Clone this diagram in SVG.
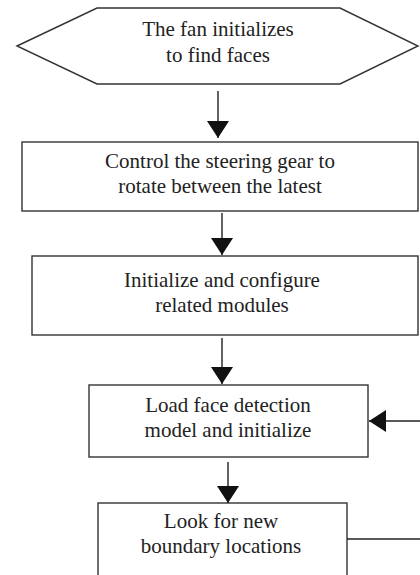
<svg xmlns="http://www.w3.org/2000/svg" width="420" height="575" viewBox="0 0 420 575">
<style>
.shape{fill:#fff;stroke:#333;stroke-width:1.4}
.conn{stroke:#222;stroke-width:1.4;fill:none}
text{font-family:"Liberation Serif","Times New Roman",serif;font-size:21px;fill:#222;text-anchor:middle}
</style>
<defs>
<marker id="ah" markerUnits="userSpaceOnUse" markerWidth="18" markerHeight="22" refX="17" refY="11" orient="auto">
<path d="M0,0 L17,11 L0,22 z" fill="#111"/>
</marker>
</defs>
<rect width="420" height="575" fill="#fff"/>
<g id="n1">
<polygon class="shape" points="17,46 97,8 340,8 418,46 340,84 97,84"/>
<text x="218" y="36">The fan initializes</text>
<text x="218" y="62">to find faces</text>
</g>
<g id="n2">
<rect class="shape" x="22" y="142" width="396" height="69"/>
<text x="220" y="168">Control the steering gear to</text>
<text x="220" y="193">rotate between the latest</text>
</g>
<g id="n3">
<rect class="shape" x="32" y="256" width="386" height="79"/>
<text x="222" y="287">Initialize and configure</text>
<text x="222" y="312">related modules</text>
</g>
<g id="n4">
<rect class="shape" x="89" y="385" width="279" height="72"/>
<text x="228" y="412">Load face detection</text>
<text x="228" y="437">model and initialize</text>
</g>
<g id="n5">
<rect class="shape" x="98" y="503" width="249" height="80"/>
<text x="221" y="528">Look for new</text>
<text x="221" y="553">boundary locations</text>
</g>
<g id="connectors">
<line class="conn" x1="218" y1="91" x2="218" y2="138" marker-end="url(#ah)"/>
<line class="conn" x1="222" y1="213" x2="222" y2="255" marker-end="url(#ah)"/>
<line class="conn" x1="222" y1="338" x2="222" y2="384" marker-end="url(#ah)"/>
<line class="conn" x1="420" y1="421" x2="369" y2="421" marker-end="url(#ah)"/>
<line class="conn" x1="228" y1="462" x2="228" y2="503" marker-end="url(#ah)"/>
<line class="conn" x1="347" y1="539" x2="420" y2="539"/>
</g>
</svg>
